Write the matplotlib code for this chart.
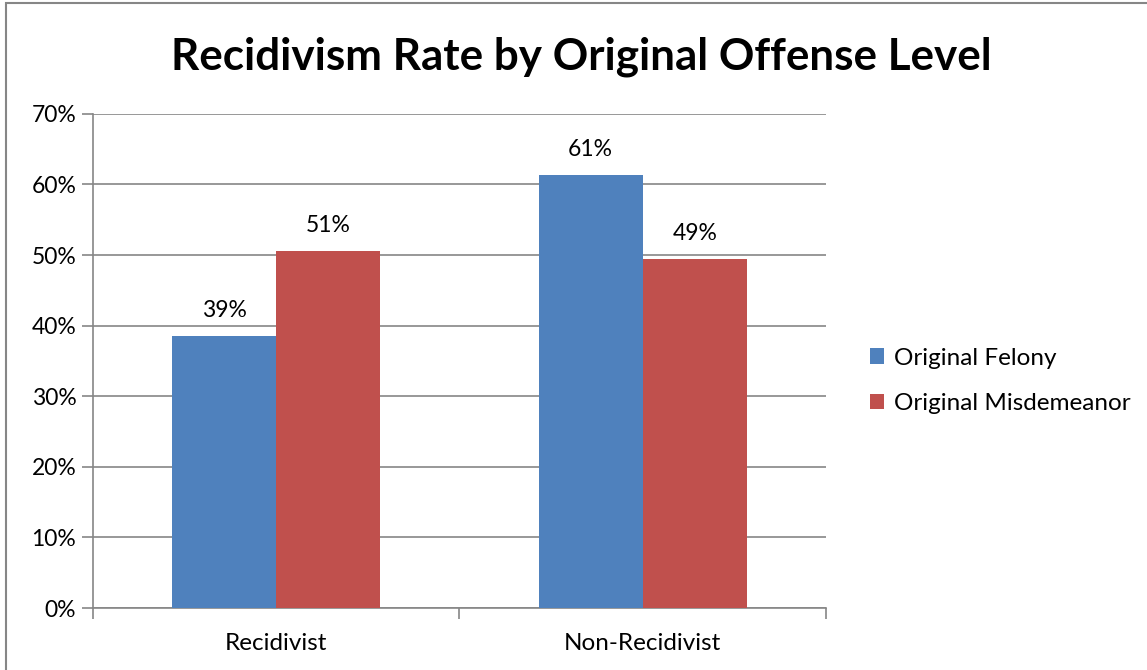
import matplotlib.pyplot as plt
from matplotlib.patches import Rectangle
from matplotlib.ticker import PercentFormatter
import numpy as np

plt.rcParams["font.family"] = ["Lato", "DejaVu Sans"]

categories = ["Recidivist", "Non-Recidivist"]
felony = [38.6, 61.4]
misdemeanor = [50.6, 49.4]
series_names = ["Original Felony", "Original Misdemeanor"]
colors = ["#4F81BD", "#C0504D"]

fig = plt.figure(figsize=(11.47, 6.70), dpi=100)
ax = fig.add_axes([0.0811, 0.0925, 0.639, 0.7375])

x = np.arange(len(categories))
width = 0.284
grid_color = "#868686"

for offset, values, name, color in zip((-width / 2, width / 2), (felony, misdemeanor), series_names, colors):
    bars = ax.bar(x + offset, values, width, color=color, label=name, zorder=3)
    for bar, v in zip(bars, values):
        ax.text(bar.get_x() + bar.get_width() / 2, v + 2.1, f"{v:.0f}%",
                ha="center", va="bottom", fontsize=16.5)

ax.set_xlim(-0.5, 1.5)
ax.set_ylim(0, 70)
ax.set_yticks(range(0, 71, 10))
ax.yaxis.set_major_formatter(PercentFormatter(decimals=0))
ax.grid(axis="y", color=grid_color, linewidth=1.2, zorder=0)

ax.set_xticks([-0.5, 0.5, 1.5])
ax.set_xticklabels([])
ax.set_xticks(x, minor=True)
ax.set_xticklabels(categories, minor=True)
ax.tick_params(axis="x", which="major", length=8, width=1.2, color=grid_color, direction="out")
ax.tick_params(axis="x", which="minor", length=0, pad=18, labelsize=17.5)
ax.tick_params(axis="y", length=8, width=1.2, color=grid_color, pad=4, labelsize=16.5)

for side in ("top", "right"):
    ax.spines[side].set_visible(False)
for side in ("left", "bottom"):
    ax.spines[side].set_color(grid_color)
    ax.spines[side].set_linewidth(1.2)

fig.text(0.507, 0.915, "Recidivism Rate by Original Offense Level",
         ha="center", va="center", fontsize=31.7, fontweight="bold")

ax.legend(loc="center left", bbox_to_anchor=(1.03, 0.46), frameon=False,
          fontsize=17.5, handlelength=0.6, handleheight=0.6, handletextpad=0.4,
          labelspacing=1.0)

# chart border
fig.patches.append(Rectangle((6 / 1147, -0.01), 1.1, 1 - 3 / 670 + 0.01,
                             transform=fig.transFigure, fill=False,
                             edgecolor=grid_color, linewidth=1.5))

fig.savefig("out.png", dpi=100)
